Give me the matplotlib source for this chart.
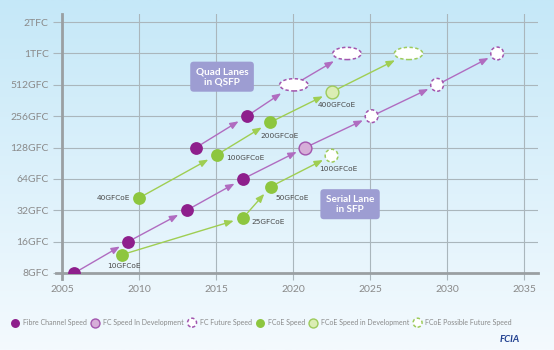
import numpy as np
import matplotlib
matplotlib.use("Agg")
import matplotlib.pyplot as plt
from matplotlib.path import Path
from matplotlib.markers import MarkerStyle
from matplotlib.transforms import Affine2D

# ---------------- data ----------------
ytick_vals = [8, 16, 32, 64, 128, 256, 512, 1024, 2048]
ytick_labels = ["8GFC", "16GFC", "32GFC", "64GFC", "128GFC", "256GFC", "512GFC", "1TFC", "2TFC"]
xtick_vals = [2005, 2010, 2015, 2020, 2025, 2030, 2035]

fc_years = [2005.8, 2009.3, 2013.1, 2016.75]
fc_speeds = [8, 16, 32, 64]
fc_quad_years = [2013.7, 2017.0]
fc_quad_speeds = [128, 256]
fc_dev_years = [2020.8]
fc_dev_speeds = [128]
fc_future_years = [2025.1, 2029.35, 2033.25]
fc_future_speeds = [256, 512, 1024]
fc_quad_future_years = [2020.05, 2023.5]
fc_quad_future_speeds = [512, 1024]

fcoe_years = [2008.9, 2016.75, 2018.55]
fcoe_speeds = [12, 27, 54]
fcoe_labels = ["10GFCoE", "25GFCoE", "50GFCoE"]
fcoe_quad_years = [2010.0, 2015.05, 2018.5]
fcoe_quad_speeds = [42, 109, 223]
fcoe_quad_labels = ["40GFCoE", "100GFCoE", "200GFCoE"]
fcoe_dev_years = [2022.5]
fcoe_dev_speeds = [437]
fcoe_dev_labels = ["400GFCoE"]
fcoe_future_years = [2022.5]
fcoe_future_speeds = [107]
fcoe_future_labels = ["100GFCoE"]
fcoe_quad_future_years = [2027.5]
fcoe_quad_future_speeds = [1024]

legend_labels = ["Fibre Channel Speed", "FC Speed In Development", "FC Future Speed",
                 "FCoE Speed", "FCoE Speed in Development", "FCoE Possible Future Speed"]

# ---------------- style ----------------
FC = "#8E1F8C"
FC_LINE = "#B06CC0"
FC_DEV = "#D6AED8"
FC_EDGE = "#A255AE"
GR = "#8DC63F"
GR_LINE = "#9FCE52"
GR_DEV = "#DBEDB4"
GR_EDGE = "#9DCB5C"
GRID = "#AAB6BC"
TXT = "#8A8A8A"

plt.rcParams['font.family'] = ['Lato', 'DejaVu Sans']

fig = plt.figure(figsize=(5.54, 3.5), dpi=100)

# background gradient
bg = fig.add_axes([0, 0, 1, 1], zorder=-10)
grad = np.linspace(0, 1, 256).reshape(-1, 1)
top = np.array([197, 232, 248]) / 255
bot = np.array([244, 250, 254]) / 255
img = top[None, None, :] * (1 - grad[:, :, None]) + bot[None, None, :] * grad[:, :, None]
bg.imshow(img, aspect='auto', extent=[0, 1, 0, 1])
bg.axis('off')

ax = fig.add_axes([62/554, 1 - 273/350, (538-62)/554, (273-14)/350])
ax.patch.set_alpha(0)
ax.set_yscale('log', base=2)
ax.set_xlim(2005, 2035.9)
ax.set_ylim(8, 2450)
ax.set_yticks(ytick_vals)
ax.set_yticklabels(ytick_labels)
ax.minorticks_off()
ax.set_xticks(xtick_vals)
ax.set_xticklabels([str(v) for v in xtick_vals])
ax.grid(True, color=GRID, linewidth=0.8, zorder=0)
ax.tick_params(axis='y', length=6.5, width=0.8, color=GRID, labelcolor=TXT, labelsize=7.5, pad=3)
ax.tick_params(axis='x', length=5, width=0.8, color=GRID, labelcolor=TXT, labelsize=7.5, pad=4)
for s in ['top', 'right']:
    ax.spines[s].set_visible(False)
for s in ['left', 'bottom']:
    ax.spines[s].set_color("#9A9FA2")
    ax.spines[s].set_linewidth(2)
ax.spines['left'].set_bounds(8 * 2**(-0.2), 2450)
ax.spines['bottom'].set_bounds(2004.6, 2035.9)

ell_path = Path.unit_circle().transformed(Affine2D().scale(1.0, 0.43))
ELL = MarkerStyle(ell_path)
S_CIRC = 85
S_ELL = 420

def chain(xs, ys, color, sizes):
    for i in range(len(xs) - 1):
        sa = 4.8 if sizes[i] == 'c' else 7
        sb = 7 if sizes[i + 1] == 'c' else 11
        ax.annotate("", xy=(xs[i + 1], ys[i + 1]), xytext=(xs[i], ys[i]),
                    arrowprops=dict(arrowstyle="-|>,head_length=0.5,head_width=0.2",
                                    color=color, lw=1.0, shrinkA=sa, shrinkB=sb),
                    zorder=2)

chain(fc_years + fc_dev_years + fc_future_years, fc_speeds + fc_dev_speeds + fc_future_speeds,
      FC_LINE, ['c'] * 8)
chain(fc_quad_years + fc_quad_future_years, fc_quad_speeds + fc_quad_future_speeds,
      FC_LINE, ['c', 'c', 'e', 'e'])
chain(fcoe_years + fcoe_future_years, fcoe_speeds + fcoe_future_speeds, GR_LINE, ['c'] * 4)
chain(fcoe_quad_years + fcoe_dev_years + fcoe_quad_future_years,
      fcoe_quad_speeds + fcoe_dev_speeds + fcoe_quad_future_speeds, GR_LINE, ['c'] * 4 + ['e'])

h1 = ax.scatter(fc_years + fc_quad_years, fc_speeds + fc_quad_speeds, s=S_CIRC, c=FC, zorder=4, linewidths=0)
h2 = ax.scatter(fc_dev_years, fc_dev_speeds, s=S_CIRC, c=FC_DEV, edgecolors=FC_EDGE, linewidths=1.0, zorder=4)
h3 = ax.scatter(fc_future_years, fc_future_speeds, s=S_CIRC, c="white", edgecolors=FC_EDGE,
                linewidths=1.1, linestyles=(0, (2.2, 1.6)), zorder=4)
ax.scatter(fc_quad_future_years, fc_quad_future_speeds, s=S_ELL, marker=ELL, c="white",
           edgecolors=FC_EDGE, linewidths=1.1, linestyles=(0, (2.2, 1.6)), zorder=4)
h4 = ax.scatter(fcoe_years + fcoe_quad_years, fcoe_speeds + fcoe_quad_speeds, s=S_CIRC, c=GR, zorder=4, linewidths=0)
h5 = ax.scatter(fcoe_dev_years, fcoe_dev_speeds, s=S_CIRC, c=GR_DEV, edgecolors=GR_EDGE, linewidths=1.0, zorder=4)
h6 = ax.scatter(fcoe_future_years, fcoe_future_speeds, s=S_CIRC, c="white", edgecolors=GR_EDGE,
                linewidths=1.1, linestyles=(0, (2.2, 1.6)), zorder=4)
ax.scatter(fcoe_quad_future_years, fcoe_quad_future_speeds, s=S_ELL, marker=ELL, c="white",
           edgecolors=GR_EDGE, linewidths=1.1, linestyles=(0, (2.2, 1.6)), zorder=4)

# point labels (offsets in points)
lab_font = dict(fontsize=5.3, color="#4A4A4A", family=['Liberation Sans Narrow', 'DejaVu Sans'])
def label(x, y, t, dx, dy, ha):
    ax.annotate(t, (x, y), xytext=(dx, dy), textcoords='offset points', ha=ha, va='center',
                zorder=5, **lab_font)

label(fcoe_years[0], fcoe_speeds[0], fcoe_labels[0], 1.5, -8, 'center')
label(fcoe_years[1], fcoe_speeds[1], fcoe_labels[1], 6, -3, 'left')
label(fcoe_years[2], fcoe_speeds[2], fcoe_labels[2], 3.5, -8, 'left')
label(fcoe_quad_years[0], fcoe_quad_speeds[0], fcoe_quad_labels[0], -6.5, 0, 'right')
label(fcoe_quad_years[1], fcoe_quad_speeds[1], fcoe_quad_labels[1], 6.5, -2.2, 'left')
label(fcoe_quad_years[2], fcoe_quad_speeds[2], fcoe_quad_labels[2], -7, -10, 'left')
label(fcoe_dev_years[0], fcoe_dev_speeds[0], fcoe_dev_labels[0], 3.5, -9.5, 'center')
label(fcoe_future_years[0], fcoe_future_speeds[0], fcoe_future_labels[0], 4.5, -9.5, 'center')

box = dict(boxstyle="round,pad=0.55,rounding_size=0.35", fc="#9D9DD2", ec="none")
ax.text(2015.39, 613, "Quad Lanes\nin QSFP", ha='center', va='center', color='white',
        fontsize=7.2, fontweight='bold', linespacing=1.15, bbox=box, zorder=6)
ax.text(2023.7, 36.6, "Serial Lane\nin SFP", ha='center', va='center', color='white',
        fontsize=7.2, fontweight='bold', linespacing=1.15, bbox=box, zorder=6)

leg = ax.legend([h1, h2, h3, h4, h5, h6], legend_labels, loc='center left',
                bbox_to_anchor=(12/554, 1 - 322/350),
                bbox_transform=fig.transFigure, ncol=6, frameon=False, fontsize=5.0,
                handletextpad=0.6, columnspacing=0.7, handlelength=1.0, markerscale=0.7,
                labelcolor="#8A8A8A", borderpad=0, borderaxespad=0)

fig.text(510/554, 1 - 340/350, "FCIA", ha='center', va='center', fontsize=7, fontweight='bold',
         style='italic', color="#1F3F8F")

fig.savefig("out.png", dpi=100)
